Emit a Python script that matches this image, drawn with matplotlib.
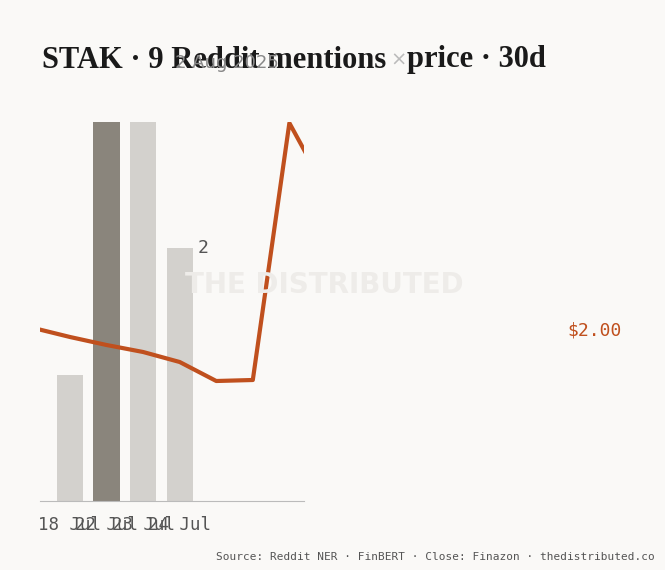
import matplotlib
matplotlib.use("Agg")
import matplotlib.pyplot as plt

bar_labels = ["18 Jul", "22 Jul", "23 Jul", "24 Jul"]
mentions = [1, 3, 3, 2]
price_idx = [-1, 0, 1, 2, 3, 4, 5, 6, 7]
price = [2.004, 1.986, 1.97, 1.956, 1.936, 1.898, 1.90, 2.414, 2.28]

bg = "#faf9f7"
fig = plt.figure(figsize=(6.65, 5.7), dpi=100, facecolor=bg)
W, H = 665, 570
ax = fig.add_axes([40/W, (570-501)/H, 264/W, (501-122)/H])
ax.set_facecolor(bg)
colors = ["#d3d1cd", "#8a857c", "#d3d1cd", "#d3d1cd"]
ax.bar(range(4), mentions, width=0.72, color=colors)
ax.set_xlim(-0.82, 6.4)
ax.set_ylim(0, 3)
ax.text(3 + 0.5, 2.0, "2", fontsize=13, color="#555", family="DejaVu Sans Mono", va="center")
for s in ["top", "right", "left"]:
    ax.spines[s].set_visible(False)
ax.spines["bottom"].set_color("#bbbbbb")
ax.set_yticks([])
ax.set_xticks(range(4))
ax.set_xticklabels(bar_labels, family="DejaVu Sans Mono", fontsize=12.5, color="#555")
ax.tick_params(axis="x", length=0, pad=11)

ax2 = ax.twinx()
ax2.plot(price_idx, price, color="#c0501e", lw=3)
ax2.set_ylim(2.0 - 171*0.002, 2.0 + 208*0.002)
ax2.axis("off")

fig.text(42/W, 1-60/H, "STAK · 9 Reddit mentions", fontsize=22, weight="bold",
         family="Liberation Serif", color="#1a1a1a", va="center")
fig.text(390/W, 1-60/H, "×", fontsize=14, color="#bbb", va="center")
fig.text(407/W, 1-60/H, "price · 30d", fontsize=22, weight="bold",
         family="Liberation Serif", color="#1a1a1a", va="center")
fig.text(175/W, 1-63/H, "2 Aug 2025", fontsize=13, color="#888", va="center",
         family="DejaVu Sans")
fig.text(185/W, 1-285/H, "THE DISTRIBUTED", fontsize=20, color="#eeece9",
         weight="bold", va="center")
fig.text(595/W, 1-330/H, "$2.00", fontsize=13, color="#c0501e", ha="center",
         va="center", family="DejaVu Sans Mono")
fig.text(655/W, 1-557/H, "Source: Reddit NER · FinBERT · Close: Finazon · thedistributed.co",
         fontsize=8, color="#555", ha="right", va="center", family="DejaVu Sans Mono")
fig.savefig("out.png", dpi=100, facecolor=bg)
